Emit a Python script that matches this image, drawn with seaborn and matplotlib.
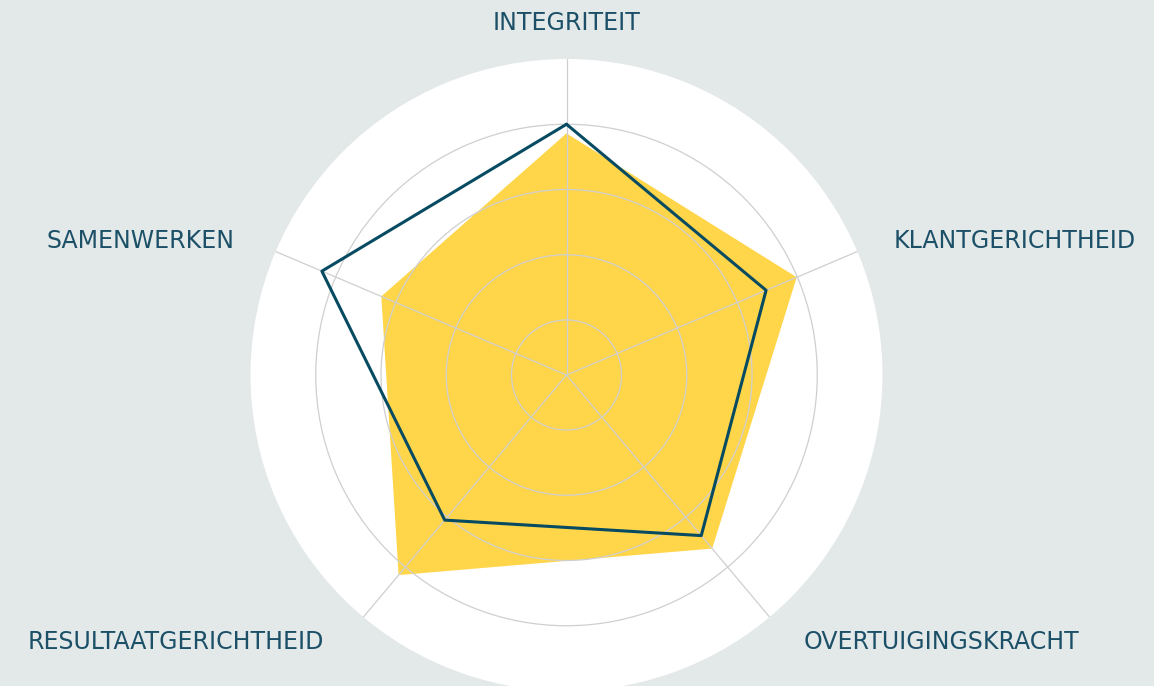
import numpy as np
import matplotlib
matplotlib.use("Agg")
import matplotlib.pyplot as plt
import seaborn as sns

# competence scores, same order as the spokes (clockwise from the top)
categories = ["INTEGRITEIT", "KLANTGERICHTHEID", "OVERTUIGINGSKRACHT",
              "RESULTAATGERICHTHEID", "SAMENWERKEN"]
score_fill = [3.86, 3.99, 3.63, 4.16, 3.24]
score_line = [4.0, 3.48, 3.37, 3.06, 4.23]
ring_ticks = [1, 2, 3, 4]

# the spokes in the original are not evenly spread, degrees clockwise from top
spoke_deg = [0, 67, 140, 220, 293]

bg = "#e3e8e8"
yellow = "#ffd54a"
navy = "#064b61"
label_color = "#1c5068"

sns.set_theme(style="white")
plt.rcParams["font.family"] = ["DejaVu Sans"]

W, H = 1154, 686
fig = plt.figure(figsize=(W / 100, H / 100), dpi=100, facecolor=bg)
# white disc centred at (566.5, 375) px, radius 316 px
ax = fig.add_axes([250.5 / W, -5 / H, 632 / W, 632 / H], projection="polar")

theta = np.deg2rad(spoke_deg)
theta_closed = np.append(theta, 2 * np.pi)
fill_closed = score_fill + score_fill[:1]
line_closed = score_line + score_line[:1]

ax.set_theta_zero_location("N")
ax.set_theta_direction(-1)
ax.set_ylim(0.157, 5)
ax.set_facecolor("white")
ax.spines["polar"].set_visible(False)
ax.set_xticks(theta)
ax.set_xticklabels([])
ax.set_yticks(ring_ticks)
ax.set_yticklabels([])
ax.set_axisbelow(False)  # grid on top of the yellow area
ax.grid(True, color="#cfcfcf", linewidth=0.9)

ax.fill(theta_closed, fill_closed, color=yellow, linewidth=0, zorder=1)
sns.lineplot(x=theta_closed, y=line_closed, sort=False, estimator=None,
             color=navy, linewidth=2.2, solid_joinstyle="round", zorder=3, ax=ax)
ax.set_xlabel("")
ax.set_ylabel("")

# axis labels, pixel positions (x, baseline y) measured from the top-left
label_pos = {
    "INTEGRITEIT": (567, 29.5, "center"),
    "KLANTGERICHTHEID": (894, 247.5, "left"),
    "OVERTUIGINGSKRACHT": (804, 649, "left"),
    "RESULTAATGERICHTHEID": (324, 649, "right"),
    "SAMENWERKEN": (234, 247.5, "right"),
}
for name in categories:
    x, y, ha = label_pos[name]
    fig.text(x / W, 1 - y / H, name, ha=ha, va="baseline",
             fontsize=17, color=label_color)

fig.savefig("out.png", dpi=100, facecolor=bg)
